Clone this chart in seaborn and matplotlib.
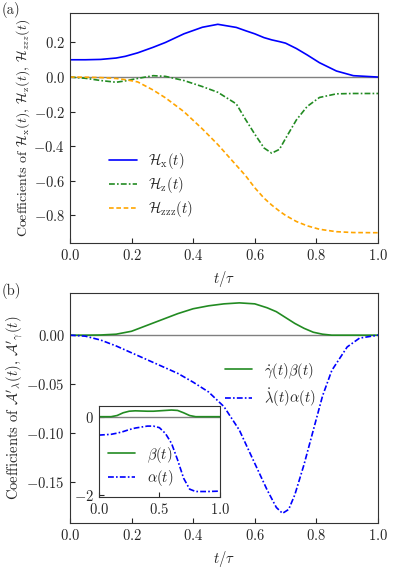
import numpy as np
import pandas as pd
import matplotlib
matplotlib.use("Agg")
import matplotlib.pyplot as plt
import seaborn as sns

# ---- data ----
# panel (a)
t_a = [0.0, 0.05, 0.10, 0.15, 0.18, 0.22, 0.27, 0.31, 0.37, 0.43, 0.48, 0.54, 0.57, 0.60,
       0.63, 0.655, 0.68, 0.70, 0.735, 0.77, 0.81, 0.865, 0.92, 1.00]
hx = [0.100, 0.100, 0.102, 0.110, 0.120, 0.140, 0.172, 0.200, 0.250, 0.288, 0.305, 0.287,
      0.268, 0.250, 0.228, 0.215, 0.205, 0.196, 0.165, 0.128, 0.083, 0.035, 0.008, 0.000]
hz = [0.000, -0.007, -0.020, -0.030, -0.022, -0.008, 0.008, 0.004, -0.020, -0.055, -0.088,
      -0.155, -0.245, -0.330, -0.410, -0.440, -0.418, -0.355, -0.248, -0.170, -0.118, -0.097,
      -0.095, -0.095]
hzzz = [0.000, -0.001, -0.003, -0.008, -0.015, -0.028, -0.075, -0.120, -0.200, -0.300,
        -0.390, -0.510, -0.570, -0.640, -0.700, -0.740, -0.775, -0.800, -0.835, -0.860,
        -0.880, -0.894, -0.899, -0.900]

# panel (b)
t_b = [0.0, 0.05, 0.10, 0.15, 0.20, 0.25, 0.30, 0.35, 0.40, 0.45, 0.50, 0.55, 0.60, 0.64,
       0.67, 0.69, 0.71, 0.73, 0.76, 0.79, 0.82, 0.85, 0.90, 0.94, 1.00]
gdot_beta = [0.0, 0.0, 0.0002, 0.001, 0.004, 0.010, 0.016, 0.022, 0.027, 0.030, 0.032, 0.033,
             0.032, 0.028, 0.024, 0.020, 0.016, 0.012, 0.007, 0.003, 0.001, 0.0, 0.0, 0.0, 0.0]
ldot_alpha = [0.0, -0.001, -0.005, -0.011, -0.018, -0.025, -0.032, -0.039, -0.048, -0.058,
              -0.073, -0.097, -0.131, -0.158, -0.176, -0.182, -0.178, -0.163, -0.132, -0.097,
              -0.062, -0.036, -0.012, -0.003, 0.0]

# inset
t_in = [0.0, 0.10, 0.15, 0.20, 0.25, 0.30, 0.40, 0.45, 0.50, 0.55, 0.60, 0.65, 0.70, 0.75,
        0.80, 0.90, 1.00]
beta = [0.0, 0.0, 0.03, 0.10, 0.14, 0.15, 0.14, 0.14, 0.15, 0.16, 0.17, 0.16, 0.10, 0.03,
        0.0, 0.0, 0.0]
alpha = [-0.47, -0.45, -0.42, -0.38, -0.33, -0.29, -0.24, -0.24, -0.28, -0.43, -0.68, -1.10,
         -1.57, -1.85, -1.91, -1.91, -1.90]

sns.set_style("ticks")
plt.rcParams["font.family"] = "serif"
plt.rcParams["font.serif"] = ["cmr10", "DejaVu Serif"]
plt.rcParams["mathtext.fontset"] = "cm"
plt.rcParams["axes.formatter.use_mathtext"] = True
plt.rcParams["font.size"] = 10.5
plt.rcParams["xtick.direction"] = "in"
plt.rcParams["ytick.direction"] = "in"
plt.rcParams["axes.edgecolor"] = "#333333"

dashdot = (0, (3.5, 1.3, 1.0, 1.3))
dashed = (0, (2.8, 1.6))

fig = plt.figure(figsize=(3.95, 5.68), dpi=100)
ax1 = fig.add_axes([0.177, 0.572, 0.780, 0.405])
ax2 = fig.add_axes([0.177, 0.079, 0.780, 0.405])

# panel (a)
ax1.axhline(0, color="gray", lw=1)
sns.lineplot(x=t_a, y=hx, ax=ax1, color="blue", lw=1.2, label=r"$\mathcal{H}_{\rm x}(t)$")
sns.lineplot(x=t_a, y=hz, ax=ax1, color="forestgreen", lw=1.2, linestyle=dashdot,
             label=r"$\mathcal{H}_{\rm z}(t)$")
sns.lineplot(x=t_a, y=hzzz, ax=ax1, color="orange", lw=1.2, linestyle=dashed,
             label=r"$\mathcal{H}_{\rm zzz}(t)$")
ax1.set_xlim(0, 1)
ax1.set_ylim(-0.96, 0.37)
ax1.set_yticks([0.2, 0.0, -0.2, -0.4, -0.6, -0.8])
ax1.set_xticks([0.0, 0.2, 0.4, 0.6, 0.8, 1.0])
ax1.set_xlabel(r"$t/\tau$")
ax1.set_ylabel(r"Coefficients of $\mathcal{H}_{\rm x}(t)$, $\mathcal{H}_{\rm z}(t)$, $\mathcal{H}_{zzz}(t)$",
               labelpad=1, fontsize=10)
ax1.legend(loc="upper left", bbox_to_anchor=(0.084, 0.456), frameon=False,
           handlelength=1.9, labelspacing=0.25)

# panel (b)
ax2.axhline(0, color="gray", lw=1)
sns.lineplot(x=t_b, y=gdot_beta, ax=ax2, color="forestgreen", lw=1.2,
             label=r"$\dot{\gamma}(t)\beta(t)$")
sns.lineplot(x=t_b, y=ldot_alpha, ax=ax2, color="blue", lw=1.2, linestyle=dashdot,
             label=r"$\dot{\lambda}(t)\alpha(t)$")
ax2.set_xlim(0, 1)
ax2.set_ylim(-0.192, 0.043)
ax2.set_yticks([0.0, -0.05, -0.10, -0.15])
ax2.set_yticklabels(["0.00", r"$-0.05$", r"$-0.10$", r"$-0.15$"])
ax2.set_xticks([0.0, 0.2, 0.4, 0.6, 0.8, 1.0])
ax2.set_xlabel(r"$t/\tau$")
ax2.set_ylabel(r"Coefficients of $\mathcal{A}'_{\lambda}(t)$, $\mathcal{A}'_{\gamma}(t)$",
               labelpad=1)
ax2.legend(loc="upper left", bbox_to_anchor=(0.46, 0.764), frameon=False,
           handlelength=1.9, labelspacing=0.4)

# inset
axi = fig.add_axes([0.2506, 0.125, 0.306, 0.160])
axi.axhline(0, color="gray", lw=1)
sns.lineplot(x=t_in, y=beta, ax=axi, color="forestgreen", lw=1.2, label=r"$\beta(t)$")
sns.lineplot(x=t_in, y=alpha, ax=axi, color="blue", lw=1.2, linestyle=dashdot,
             label=r"$\alpha(t)$")
axi.set_xlim(0, 1)
axi.set_ylim(-2.05, 0.27)
axi.set_xticks([0.0, 0.5, 1.0])
axi.set_yticks([0, -2])
axi.legend(loc="lower left", frameon=False, handlelength=1.9, labelspacing=0.25,
           borderaxespad=0.2)

fig.text(0.005, 0.997, "(a)", va="top", ha="left")
fig.text(0.005, 0.502, "(b)", va="top", ha="left")

fig.savefig("out.png", dpi=100)
